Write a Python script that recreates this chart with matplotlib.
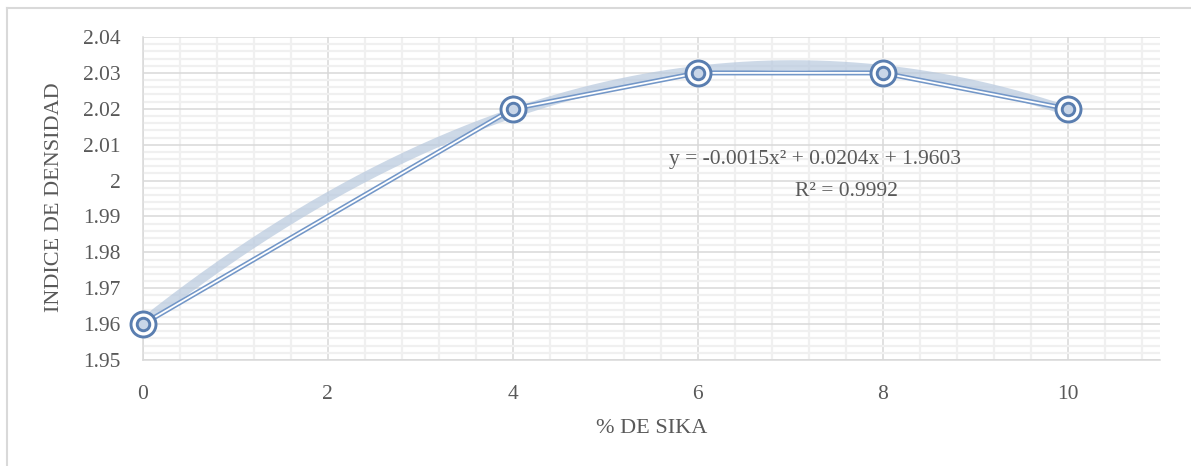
import numpy as np
import matplotlib
matplotlib.use("Agg")
import matplotlib.pyplot as plt
from matplotlib.ticker import MultipleLocator
from matplotlib.lines import Line2D

# Data
sika_pct = [0, 4, 6, 8, 10]
density_index = [1.96, 2.02, 2.03, 2.03, 2.02]

# Trendline label (quadratic fit of the series)
trend_label = "y = -0.0015x² + 0.0204x + 1.9603"
r2_label = "R² = 0.9992"

x_ticks = [0, 2, 4, 6, 8, 10]
y_ticks = [1.95, 1.96, 1.97, 1.98, 1.99, 2.0, 2.01, 2.02, 2.03, 2.04]
y_tick_labels = ["1.95", "1.96", "1.97", "1.98", "1.99", "2", "2.01", "2.02", "2.03", "2.04"]

plt.rcParams['font.family'] = ['Liberation Serif', 'DejaVu Serif']

fig = plt.figure(figsize=(11.91, 4.66), dpi=100)
ax = fig.add_axes([0.120, 0.2275, 0.854, 0.693])

# Outer chart frame
fig.add_artist(Line2D([0.0059, 0.0059], [0.0, 0.983], transform=fig.transFigure,
                      color="#d9d9d9", lw=1.5))
fig.add_artist(Line2D([0.0059, 1.0], [0.983, 0.983], transform=fig.transFigure,
                      color="#d9d9d9", lw=1.5))

ax.set_xlim(0, 11)
ax.set_ylim(1.95, 2.04)

ax.set_xticks(x_ticks)
ax.xaxis.set_minor_locator(MultipleLocator(0.4))
ax.set_yticks(y_ticks)
ax.set_yticklabels(y_tick_labels)
ax.yaxis.set_minor_locator(MultipleLocator(0.002))

ax.grid(which="minor", color="#f0f0f0", lw=1.6, zorder=0)
ax.grid(which="major", color="#d9d9d9", lw=1.1, zorder=0.5)
ax.set_axisbelow(True)

for s in ["top", "right"]:
    ax.spines[s].set_visible(False)
for s in ["left", "bottom"]:
    ax.spines[s].set_color("#d9d9d9")
    ax.spines[s].set_linewidth(1.1)

ax.tick_params(which="both", length=0)
ax.tick_params(axis="x", labelsize=15.5, labelcolor="#595959", pad=18)
ax.tick_params(axis="y", labelsize=15.5, labelcolor="#595959", pad=16)

# Quadratic trendline fitted to the series
coef = np.polyfit(sika_pct, density_index, 2)
xt = np.linspace(0, 10, 300)
yt = np.polyval(coef, xt)
ax.plot(xt, yt, color="#b8c9de", lw=7, alpha=0.7, solid_capstyle="round", zorder=2)

# Data series drawn as a double line
ax.plot(sika_pct, density_index, color="#7397c8", lw=3.6, zorder=3)
ax.plot(sika_pct, density_index, color="white", lw=1.3, zorder=3.1)

# Double-circle markers
ax.plot(sika_pct, density_index, ls="none", marker="o", ms=18,
        mfc="#ffffff", mec="#5a7eb0", mew=2.1, zorder=4, clip_on=False)
ax.plot(sika_pct, density_index, ls="none", marker="o", ms=9,
        mfc="#c9d6e8", mec="#5a7eb0", mew=2.1, zorder=5, clip_on=False)

fig.text(815 / 1191, 1 - 164 / 466, trend_label,
         ha="center", va="baseline", fontsize=15.5, color="#595959")
fig.text(846 / 1191, 1 - 196 / 466, r2_label,
         ha="center", va="baseline", fontsize=15.5, color="#595959")

fig.text(652 / 1191, 1 - 433 / 466, "% DE SIKA", ha="center", va="baseline",
         fontsize=16, color="#595959")
fig.text(55 / 1191, 1 - 197 / 466, "INDICE DE DENSIDAD", ha="center", va="center",
         rotation=90, fontsize=16, color="#595959")

fig.savefig("out.png", dpi=100)
